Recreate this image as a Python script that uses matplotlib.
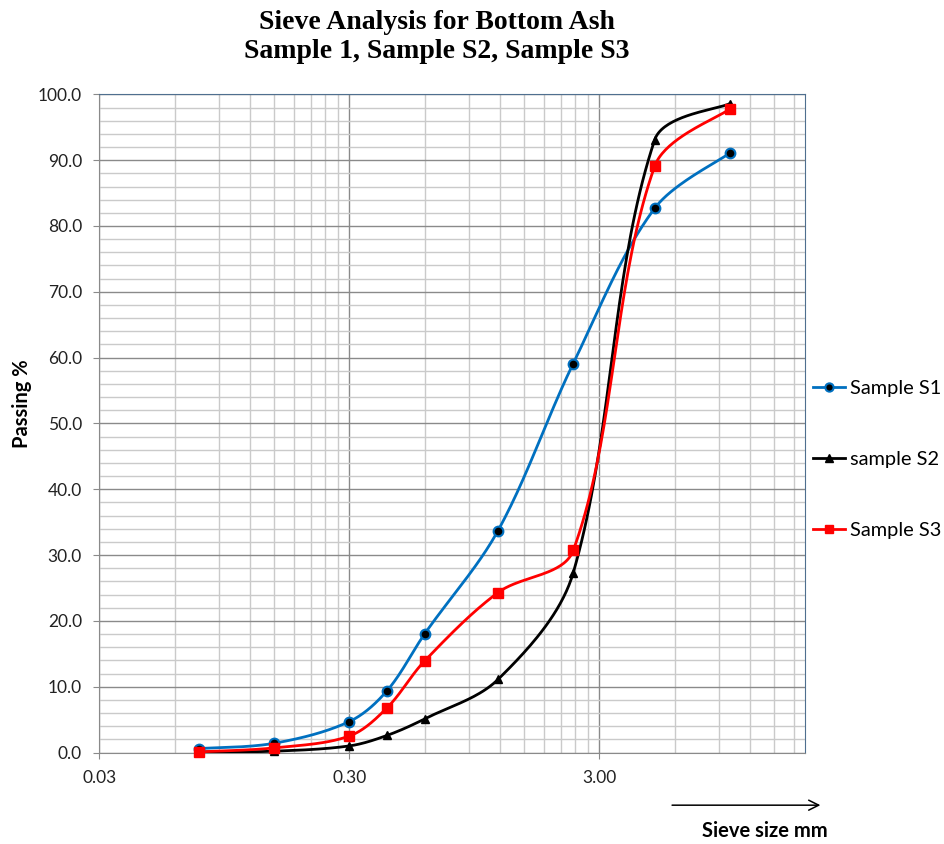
import numpy as np
import matplotlib
matplotlib.use("Agg")
import matplotlib.pyplot as plt
from matplotlib.lines import Line2D
from matplotlib.patches import FancyArrowPatch
from matplotlib.ticker import FixedLocator, MultipleLocator, FormatStrFormatter, NullFormatter

# sieve sizes (mm) and percent passing
sieve_mm = [0.075, 0.15, 0.3, 0.425, 0.6, 1.18, 2.36, 5.0, 10.0]
s1_pass = [0.6, 1.4, 4.7, 9.4, 18.0, 33.7, 59.1, 82.7, 91.1]
s2_pass = [0.1, 0.2, 1.0, 2.6, 5.1, 11.1, 27.3, 93.1, 98.6]
s3_pass = [0.1, 0.7, 2.5, 6.8, 13.9, 24.3, 30.7, 89.1, 97.8]
labels = ["Sample S1", "sample S2", "Sample S3"]
x_ticks = [0.03, 0.3, 3.0]
x_minor = [0.03 * k * 10 ** d for d in range(3) for k in range(2, 10)]

plt.rcParams['font.family'] = ['Lato', 'DejaVu Sans']

# approx pixels per decade / per percent, used to shape the smoothing
PX_DEC, PX_PCT = 250.0, 6.58


def smooth(xs, ys, n=40):
    # Excel-like smoothed line: bezier segments, handles scaled by segment length
    p = np.column_stack([np.log10(xs) * PX_DEC, np.array(ys) * PX_PCT])
    out = [p[0]]
    m = len(p)
    for i in range(m - 1):
        p0 = p[i - 1] if i > 0 else p[i]
        p1, p2 = p[i], p[i + 1]
        p3 = p[i + 2] if i + 2 < m else p[i + 1]
        d01 = np.hypot(*(p1 - p0))
        d12 = np.hypot(*(p2 - p1))
        d23 = np.hypot(*(p3 - p2))
        f1 = d12 / (d01 + d12) / 3.0 if d01 > 0 else 1 / 6.0
        f2 = d12 / (d12 + d23) / 3.0 if d23 > 0 else 1 / 6.0
        c1 = p1 + (p2 - p0) * f1
        c2 = p2 - (p3 - p1) * f2
        t = np.linspace(0, 1, n)[1:, None]
        seg = ((1 - t) ** 3 * p1 + 3 * (1 - t) ** 2 * t * c1
               + 3 * (1 - t) * t ** 2 * c2 + t ** 3 * p2)
        out.extend(seg)
    out = np.array(out)
    return 10 ** (out[:, 0] / PX_DEC), out[:, 1] / PX_PCT


fig = plt.figure(figsize=(9.44, 8.44), dpi=100)
ax = fig.add_axes([0.1052, 0.1084, 0.7478, 0.7798])

styles = [
    dict(color="#0070C0", marker="o", mfc="black", mec="#0070C0", ms=7, mew=1.5),
    dict(color="black", marker="^", mfc="black", mec="black", ms=6, mew=1),
    dict(color="#FF0000", marker="s", mfc="#FF0000", mec="#FF0000", ms=7.5, mew=1),
]

for ys, st in zip([s1_pass, s2_pass, s3_pass], styles):
    sx, sy = smooth(sieve_mm, ys)
    ax.plot(sx, sy, color=st["color"], lw=2, zorder=3, solid_capstyle="round")
for ys, st in zip([s1_pass, s2_pass, s3_pass], styles):
    ax.plot(sieve_mm, ys, ls="none", marker=st["marker"], mfc=st["mfc"],
            mec=st["mec"], ms=st["ms"], mew=st["mew"], zorder=4, clip_on=False)

ax.set_xscale("log")
ax.set_xlim(0.03, 20)
ax.set_ylim(0, 100)

ax.xaxis.set_major_locator(FixedLocator(x_ticks))
ax.xaxis.set_major_formatter(FormatStrFormatter("%.2f"))
ax.xaxis.set_minor_locator(FixedLocator(x_minor))
ax.xaxis.set_minor_formatter(NullFormatter())
ax.yaxis.set_major_locator(MultipleLocator(10))
ax.yaxis.set_major_formatter(FormatStrFormatter("%.1f"))
ax.yaxis.set_minor_locator(MultipleLocator(2))

ax.grid(which="major", color="#8a8a8a", lw=1)
ax.grid(which="minor", color="#cacaca", lw=1)
ax.set_axisbelow(True)

ax.tick_params(axis="both", which="major", length=4.5, color="#8a8a8a",
               labelsize=12.5, pad=8, labelcolor="#222222")
ax.tick_params(axis="both", which="minor", length=0)

for side in ["left", "bottom"]:
    ax.spines[side].set_color("#8a8a8a")
for side in ["top", "right"]:
    ax.spines[side].set_color("#4f6f8f")

ax.set_ylabel("Passing %", fontsize=14.5, fontweight="bold", labelpad=10)
ax.yaxis.set_label_coords(-0.095, 0.53)

fig.text(0.463, 0.988, "Sieve Analysis for Bottom Ash\nSample 1, Sample S2, Sample S3",
         ha="center", va="top", fontsize=20, fontweight="bold",
         family="Liberation Serif", linespacing=1.2)

fig.text(0.81, 0.003, "Sieve size mm", ha="center", va="bottom",
         fontsize=14.5, fontweight="bold")
fig.add_artist(FancyArrowPatch(
    (0.709, 0.046), (0.872, 0.046), transform=fig.transFigure,
    arrowstyle="->", mutation_scale=18, lw=1.1, color="black"))

handles = [Line2D([], [], color=st["color"], lw=2, marker=st["marker"],
                  mfc=st["mfc"], mec=st["mec"], ms=st["ms"] * 0.85, mew=st["mew"])
           for st in styles]
fig.legend(handles, labels, loc="center left", bbox_to_anchor=(0.861, 0.456),
           frameon=False, fontsize=14.4, handlelength=1.6, handletextpad=0.25,
           labelspacing=2.7, borderaxespad=0, borderpad=0)

fig.savefig("out.png", dpi=100, facecolor="white")
